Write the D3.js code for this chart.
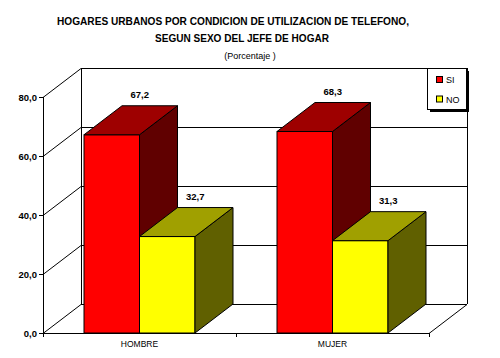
<!DOCTYPE html>
<html><head><meta charset="utf-8">
<script src="https://cdn.jsdelivr.net/npm/d3@7"></script>
<style>body{margin:0;background:#fff}svg{display:block}</style>
</head><body>
<script>
const categories = ["HOMBRE", "MUJER"];
const seriesNames = ["SI", "NO"];
const siValues = [67.2, 68.3];
const noValues = [32.7, 31.3];
const yTicks = [0, 20, 40, 60, 80];
const yTickLabels = ["0,0", "20,0", "40,0", "60,0", "80,0"];
const titleLines = ["HOGARES URBANOS POR CONDICION DE UTILIZACION DE TELEFONO,", "SEGUN SEXO DEL  JEFE DE HOGAR"];
const subtitle = "(Porcentaje  )";

(function () {
const W = 500, H = 358;
const svg = d3.select("body").append("svg").attr("width", W).attr("height", H);
const DX = 38, DY = -29;
const x0 = 43, x1 = 429, yb = 333, yt = 97;

const y = d3.scaleLinear().domain([0, 80]).range([yb, yt]);
const x = d3.scaleBand().domain(categories).range([x0, x1]);
const xs = d3.scaleBand().domain(seriesNames).range([41, 152]);
const frontCol = {SI: "#ff0000", NO: "#ffff00"};
const topCol = {SI: "#9e0000", NO: "#a0a000"};
const sideCol = {SI: "#600000", NO: "#606000"};

const g = svg.append("g").attr("stroke", "#000").attr("stroke-width", 1).attr("fill", "none");
yTicks.forEach(t => {
  g.append("line").attr("x1", x0 + DX).attr("x2", x1 + DX).attr("y1", y(t) + DY + 0.5).attr("y2", y(t) + DY + 0.5);
  g.append("line").attr("x1", x0).attr("x2", x0 + DX).attr("y1", y(t) + 0.5).attr("y2", y(t) + DY + 0.5);
});
g.append("line").attr("x1", x0 + DX + 0.5).attr("x2", x0 + DX + 0.5).attr("y1", y(80) + DY).attr("y2", y(0) + DY);
g.append("line").attr("x1", x1 + DX + 0.5).attr("x2", x1 + DX + 0.5).attr("y1", y(80) + DY).attr("y2", y(0) + DY);
g.append("line").attr("x1", x0).attr("x2", x1).attr("y1", yb + 0.5).attr("y2", yb + 0.5);
g.append("line").attr("x1", x1).attr("x2", x1 + DX).attr("y1", yb + 0.5).attr("y2", yb + DY + 0.5);
g.append("line").attr("x1", x0 + 0.5).attr("x2", x0 + 0.5).attr("y1", yt).attr("y2", yb + 4);
yTicks.forEach(t => {
  g.append("line").attr("x1", x0 - 4).attr("x2", x0).attr("y1", y(t) + 0.5).attr("y2", y(t) + 0.5);
});
[x0, x0 + x.bandwidth(), x1].forEach(v => {
  g.append("line").attr("x1", Math.round(v) + 0.5).attr("x2", Math.round(v) + 0.5).attr("y1", yb).attr("y2", yb + 4);
});

function bar(cat, s, v) {
  const bx = x(cat) + xs(s), bw = xs.bandwidth();
  const by = y(v);
  const bg = svg.append("g").attr("stroke", "#000").attr("stroke-width", 1).attr("stroke-linejoin", "miter");
  bg.append("rect").attr("x", bx).attr("y", by).attr("width", bw).attr("height", yb - by).attr("fill", frontCol[s]);
  bg.append("polygon").attr("points", [[bx + bw, by], [bx + bw + DX, by + DY], [bx + bw + DX, yb + DY], [bx + bw, yb]].join(" ")).attr("fill", sideCol[s]);
  bg.append("polygon").attr("points", [[bx, by], [bx + DX, by + DY], [bx + bw + DX, by + DY], [bx + bw, by]].join(" ")).attr("fill", topCol[s]);
  svg.append("text").attr("x", bx + bw / 2 + 28).attr("y", by + DY - 8).attr("text-anchor", "middle")
    .attr("font-family", "Liberation Sans, Arial, sans-serif").attr("font-weight", "bold").attr("font-size", 9.5)
    .text(v.toFixed(1).replace(".", ","));
}
categories.forEach((c, i) => { bar(c, "SI", siValues[i]); bar(c, "NO", noValues[i]); });

yTicks.forEach((t, i) => {
  svg.append("text").attr("x", 37).attr("y", y(t) + 3.5).attr("text-anchor", "end")
    .attr("font-family", "Liberation Sans, Arial, sans-serif").attr("font-weight", "bold").attr("font-size", 9.5)
    .text(yTickLabels[i]);
});
categories.forEach(c => {
  svg.append("text").attr("x", x(c) + x.bandwidth() / 2).attr("y", yb + 14).attr("text-anchor", "middle")
    .attr("font-family", "Liberation Sans, Arial, sans-serif").attr("font-size", 8.5).text(c);
});

svg.append("text").attr("x", 233).attr("y", 25).attr("text-anchor", "middle")
  .attr("font-family", "Liberation Sans, Arial, sans-serif").attr("font-weight", "bold").attr("font-size", 11)
  .attr("textLength", 352).attr("lengthAdjust", "spacingAndGlyphs").text(titleLines[0]);
svg.append("text").attr("x", 242).attr("y", 42).attr("text-anchor", "middle")
  .attr("font-family", "Liberation Sans, Arial, sans-serif").attr("font-weight", "bold").attr("font-size", 11)
  .attr("textLength", 174).attr("lengthAdjust", "spacingAndGlyphs").text(titleLines[1]);
svg.append("text").attr("x", 250).attr("y", 59).attr("text-anchor", "middle")
  .attr("font-family", "Liberation Sans, Arial, sans-serif").attr("font-size", 9).text(subtitle);

const lx = 427, ly = 68, lw = 39, lh = 41;
svg.append("rect").attr("x", lx + 3).attr("y", ly + 3).attr("width", lw).attr("height", lh).attr("fill", "#000");
svg.append("rect").attr("x", lx + 0.5).attr("y", ly + 0.5).attr("width", lw).attr("height", lh).attr("fill", "#fff").attr("stroke", "#000");
seriesNames.forEach((s, i) => {
  const yy = ly + 8 + i * 19.5;
  svg.append("rect").attr("x", lx + 9.5).attr("y", yy + 0.5).attr("width", 6).attr("height", 6).attr("fill", frontCol[s]).attr("stroke", "#000");
  svg.append("text").attr("x", lx + 19).attr("y", yy + 7).attr("font-family", "Liberation Sans, Arial, sans-serif")
    .attr("font-size", 9).text(s);
});
})();
</script>
</body></html>
